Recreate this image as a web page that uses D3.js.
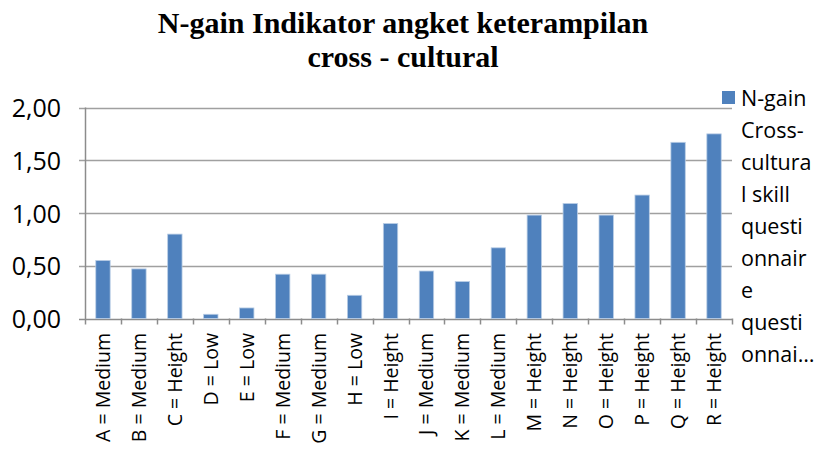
<!DOCTYPE html>
<html>
<head>
<meta charset="utf-8">
<script src="https://cdn.jsdelivr.net/npm/d3@7"></script>
<style>
  body { margin: 0; background: #fff; }
</style>
</head>
<body>
<script>
var categories = ["A = Medium", "B = Medium", "C = Height", "D = Low", "E = Low", "F = Medium",
  "G = Medium", "H = Low", "I = Height", "J = Medium", "K = Medium", "L = Medium",
  "M = Height", "N = Height", "O = Height", "P = Height", "Q = Height", "R = Height"];
var ngain = [0.55, 0.47, 0.80, 0.04, 0.10, 0.42, 0.42, 0.22, 0.90, 0.45, 0.35, 0.67,
  0.98, 1.09, 0.98, 1.17, 1.67, 1.75];
var yTicks = [0, 0.5, 1, 1.5, 2];
var titleLines = ["N-gain Indikator angket keterampilan", "cross - cultural"];
var legendLines = ["N-gain", "Cross-", "cultura", "l skill", "questi", "onnair", "e", "questi", "onnai\u2026"];

var w = 821, h = 472;
var plotLeft = 85, plotRight = 732, plotTop = 107.5, plotBottom = 318.5;
var barColor = "#4f81bd";
var labelFont = "'Open Sans', sans-serif";

var svg = d3.select("body").append("svg").attr("width", w).attr("height", h);

var x = d3.scaleBand().domain(categories).range([plotLeft, plotRight]).paddingInner(0.6).paddingOuter(0.3);
var xb = d3.scaleBand().domain(categories).range([plotLeft, plotRight]);
var y = d3.scaleLinear().domain([0, 2]).range([plotBottom, plotTop]);

// gridlines
svg.selectAll("line.grid").data(yTicks).enter().append("line")
  .attr("x1", plotLeft - 6).attr("x2", plotRight)
  .attr("y1", function(d) { return Math.round(y(d)) + 0.5; })
  .attr("y2", function(d) { return Math.round(y(d)) + 0.5; })
  .attr("stroke", function(d) { return d === 0 ? "#8c8c8c" : "#a0a0a0"; })
  .attr("stroke-width", 1.5);

// y labels
svg.selectAll("text.ylab").data(yTicks).enter().append("text")
  .text(function(d) { return d3.format(".2f")(d).replace(".", ","); })
  .attr("x", 61).attr("y", function(d) { return y(d) + 9.5; })
  .attr("text-anchor", "end")
  .attr("font-family", labelFont).attr("font-size", 25).attr("fill", "#000");

// vertical axis line
svg.append("line").attr("x1", plotLeft + 0.5).attr("x2", plotLeft + 0.5).attr("y1", plotTop).attr("y2", plotBottom + 6)
  .attr("stroke", "#8c8c8c").attr("stroke-width", 1.5);

// x ticks
svg.selectAll("line.xt").data(categories).enter().append("line")
  .attr("x1", function(d) { return Math.round(xb(d) + xb.bandwidth()) + 0.5; })
  .attr("x2", function(d) { return Math.round(xb(d) + xb.bandwidth()) + 0.5; })
  .attr("y1", plotBottom).attr("y2", plotBottom + 6)
  .attr("stroke", "#8c8c8c").attr("stroke-width", 1.5);

// bars
svg.selectAll("rect.bar").data(ngain).enter().append("rect")
  .attr("x", function(d, i) { return x(categories[i]); })
  .attr("y", function(d) { return y(d); })
  .attr("width", x.bandwidth())
  .attr("height", function(d) { return plotBottom - y(d); })
  .attr("fill", barColor)
  .attr("stroke", "#b9cde5").attr("stroke-width", 0.8);

// x labels
svg.selectAll("text.xlab").data(categories).enter().append("text")
  .text(function(d) { return d; })
  .attr("transform", function(d) {
    return "translate(" + (xb(d) + xb.bandwidth() / 2 + 7) + "," + 333 + ") rotate(-90)";
  })
  .attr("text-anchor", "end")
  .attr("font-family", labelFont).attr("font-size", 19.5).attr("fill", "#000");

// title
svg.selectAll("text.title").data(titleLines).enter().append("text")
  .text(function(d) { return d; })
  .attr("x", 403).attr("y", function(d, i) { return 33 + i * 34; })
  .attr("text-anchor", "middle")
  .attr("font-family", "'Liberation Serif', serif").attr("font-weight", "bold")
  .attr("font-size", 30).attr("fill", "#000");

// legend
svg.append("rect").attr("x", 722).attr("y", 91).attr("width", 13).attr("height", 13).attr("fill", barColor);
svg.selectAll("text.leg").data(legendLines).enter().append("text")
  .text(function(d) { return d; })
  .attr("x", 741).attr("y", function(d, i) { return 106 + i * 32; })
  .attr("font-family", labelFont).attr("font-size", 21.5).attr("fill", "#000");
</script>
</body>
</html>
